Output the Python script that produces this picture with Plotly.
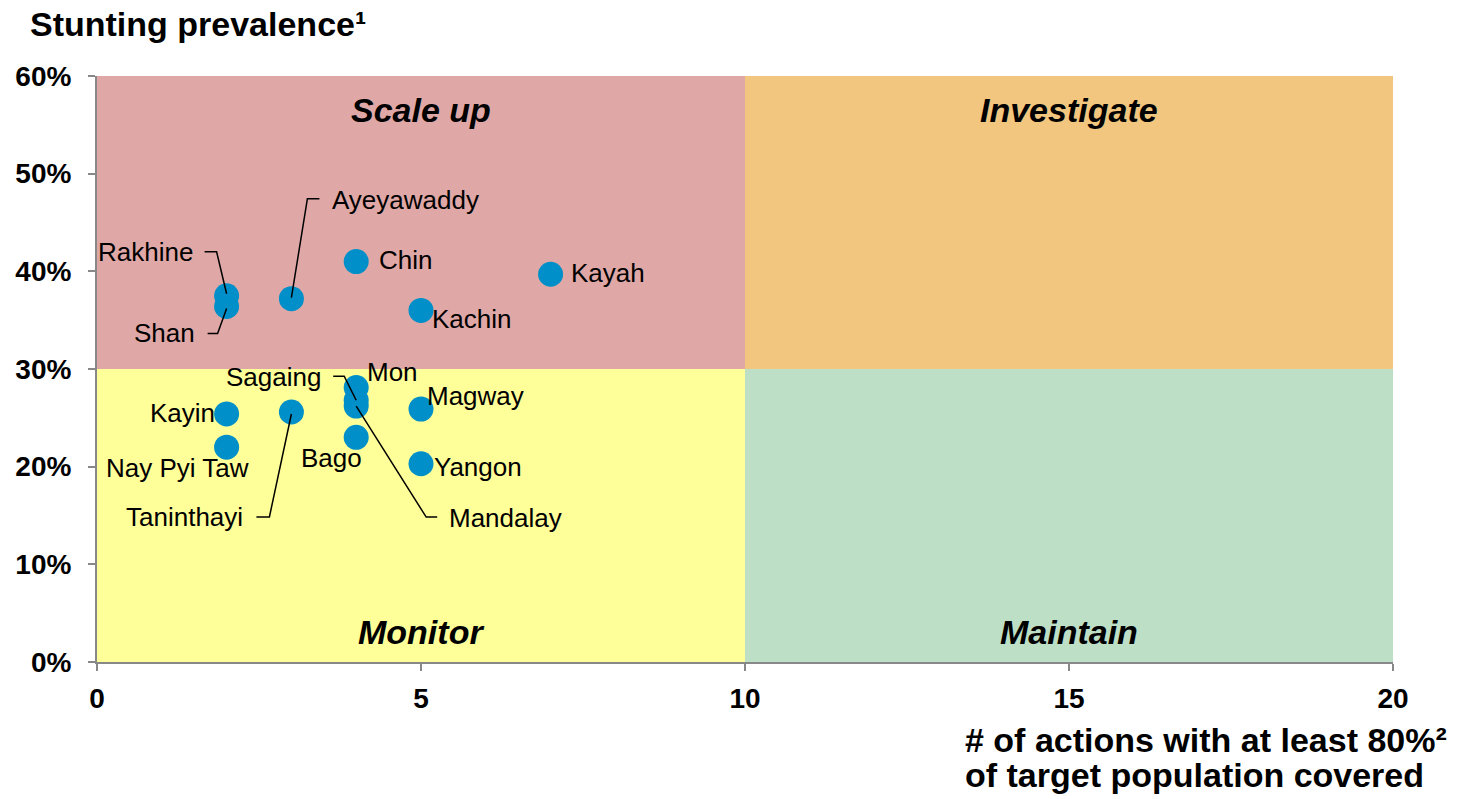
import plotly.graph_objects as go

# ---- data ----
regions = ["Rakhine", "Shan", "Ayeyawaddy", "Chin", "Kachin", "Kayah", "Mon",
           "Sagaing", "Mandalay", "Magway", "Kayin", "Nay Pyi Taw", "Taninthayi",
           "Bago", "Yangon"]
actions = [2, 2, 3, 4, 5, 7, 4, 4, 4, 5, 2, 2, 3, 4, 5]
stunting = [0.375, 0.364, 0.372, 0.410, 0.360, 0.397, 0.281,
            0.268, 0.262, 0.259, 0.254, 0.220, 0.256, 0.230, 0.203]

x_split = 10
y_split = 0.30
x_max = 20
y_max = 0.60
x_ticks = [0, 5, 10, 15, 20]
y_ticks = [0, 0.1, 0.2, 0.3, 0.4, 0.5, 0.6]
quadrants = [("Scale up", "#DFA8A6", 0, x_split, y_split, y_max, "top"),
             ("Investigate", "#F2C67E", x_split, x_max, y_split, y_max, "top"),
             ("Monitor", "#FFFF99", 0, x_split, 0, y_split, "bottom"),
             ("Maintain", "#BDDFC6", x_split, x_max, 0, y_split, "bottom")]

# label placement: (dx, dy screen px, anchor), optional leader path in screen px
label_pos = {
    "Rakhine": (-32, -44, "right", [(-22, -44), (-10, -44), (0, -2)]),
    "Shan": (-30, 27, "right", [(-19, 27), (-9, 27), (0, 2)]),
    "Ayeyawaddy": (39, -99, "left", [(28, -100), (16, -100), (0, -1)]),
    "Chin": (21, -2, "left", None),
    "Kachin": (9, 9, "left", None),
    "Kayah": (18, -1, "left", None),
    "Mon": (9, -16, "left", None),
    "Sagaing": (-33, -23, "right", [(-23, -24), (-12, -24), (0, 0)]),
    "Mandalay": (91, 112, "left", [(0, 0), (70, 111), (81, 111)]),
    "Magway": (4, -13, "left", None),
    "Kayin": (-10, -1, "right", None),
    "Nay Pyi Taw": (-49, 21, "center", None),
    "Taninthayi": (-46, 105, "right", [(-35, 105), (-22, 105), (0, 2)]),
    "Bago": (-25, 21, "center", None),
    "Yangon": (11, 3, "left", None),
}

FONT = "Arial, Liberation Sans, sans-serif"

fig = go.Figure()

shapes = []
annotations = []
for name, color, x0, x1, y0, y1, pos in quadrants:
    shapes.append(dict(type="rect", xref="x", yref="y", x0=x0, x1=x1, y0=y0, y1=y1,
                       fillcolor=color, line=dict(width=0), layer="below"))
    annotations.append(dict(x=(x0 + x1) / 2, y=y1 if pos == "top" else y0,
                            xref="x", yref="y", text=f"<b><i>{name}</i></b>",
                            showarrow=False, yanchor="middle",
                            yshift=-34 if pos == "top" else 30,
                            font=dict(family=FONT, size=34, color="black")))

fig.add_trace(go.Scatter(x=actions, y=stunting, mode="markers",
                         marker=dict(size=25, color="#008FC8", line=dict(width=0)),
                         hoverinfo="text", text=regions, showlegend=False))

for name, xv, yv in zip(regions, actions, stunting):
    dx, dy, anchor, leader = label_pos[name]
    annotations.append(dict(x=xv, y=yv, xref="x", yref="y", text=name,
                            showarrow=False, xanchor=anchor, yanchor="middle",
                            xshift=dx, yshift=-dy,
                            font=dict(family=FONT, size=26, color="black")))
    if leader:
        path = "M " + " L ".join(f"{px},{-py}" for px, py in leader)
        shapes.append(dict(type="path", xref="x", yref="y",
                           xsizemode="pixel", ysizemode="pixel",
                           xanchor=xv, yanchor=yv, path=path,
                           line=dict(color="black", width=1.5), layer="above"))

annotations.append(dict(xref="paper", yref="paper", x=-0.053, y=1.088,
                        xanchor="left", yanchor="middle", showarrow=False,
                        text="<b>Stunting prevalence¹</b>",
                        font=dict(family=FONT, size=34, color="black")))
annotations.append(dict(xref="paper", yref="paper", x=0.668, y=-0.133,
                        xanchor="left", yanchor="middle", showarrow=False,
                        text="<b># of actions with at least 80%²</b>",
                        font=dict(family=FONT, size=34, color="black")))
annotations.append(dict(xref="paper", yref="paper", x=0.668, y=-0.193,
                        xanchor="left", yanchor="middle", showarrow=False,
                        text="<b>of target population covered</b>",
                        font=dict(family=FONT, size=34, color="black")))

axis_common = dict(showgrid=False, zeroline=False, showline=True, linecolor="#888888",
                   linewidth=2, ticks="outside", ticklen=7, tickcolor="#888888",
                   tickwidth=2, automargin=False,
                   tickfont=dict(family=FONT, size=28, color="black", weight="bold"))

fig.update_layout(
    width=1461, height=799,
    margin=dict(l=89, r=76, t=68, b=145),
    plot_bgcolor="white", paper_bgcolor="white",
    xaxis=dict(range=[0, x_max], tickvals=x_ticks, ticklabelstandoff=3, **axis_common),
    yaxis=dict(range=[0, y_max], tickvals=y_ticks, tickformat=".0%",
               ticklabelstandoff=11, **axis_common),
    shapes=shapes, annotations=annotations,
)

fig.write_html("out.html")
